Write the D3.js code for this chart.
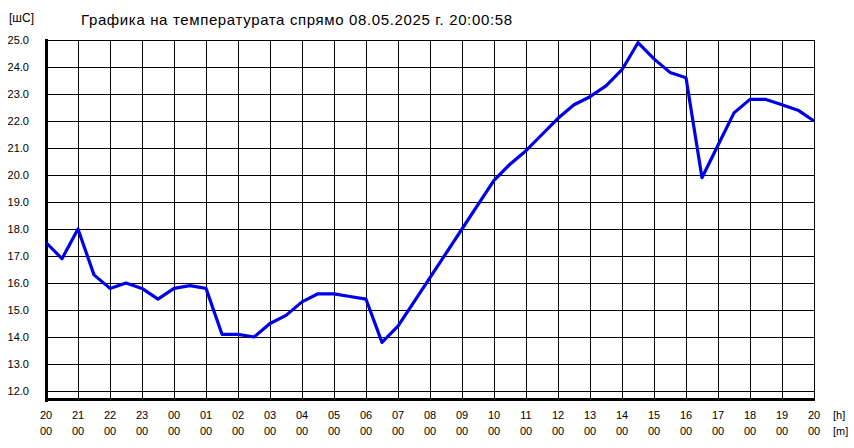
<!DOCTYPE html>
<html><head><meta charset="utf-8">
<script src="https://cdn.jsdelivr.net/npm/d3@7"></script>
<style>body{margin:0;background:#fff}svg{display:block}text{font-family:"Liberation Sans",Arial,sans-serif;fill:#000}</style>
</head><body><svg id="c" width="854" height="448"></svg>
<script>
const titleText = "Графика на температурата спрямо 08.05.2025 г. 20:00:58";
const unitLabel = "[шC]";
// time offset in hours from 20:00 start
const times = [0,0.5,1,1.5,2,2.5,3,3.5,4,4.5,5,5.5,6,6.5,7,7.5,8,8.5,9,9.5,10,10.5,11,11.5,12,12.5,13,13.5,14,14.5,15,15.5,16,16.5,17,17.5,18,18.5,19,19.5,20,20.5,21,21.5,22,22.5,23,23.5,24];
const temps = [17.5,16.9,18.0,16.3,15.8,16.0,15.8,15.4,15.8,15.9,15.8,14.1,14.1,14.0,14.5,14.8,15.3,15.6,15.6,15.5,15.4,13.8,14.4,15.3,16.2,17.1,18.0,18.9,19.8,20.4,20.9,21.5,22.1,22.6,22.9,23.3,23.9,24.9,24.3,23.8,23.6,19.9,21.1,22.3,22.8,22.8,22.6,22.4,22.0];
const hourLabels = ["20","21","22","23","00","01","02","03","04","05","06","07","08","09","10","11","12","13","14","15","16","17","18","19","20"];
const minuteLabels = hourLabels.map(()=> "00");
const yTicks = [12,13,14,15,16,17,18,19,20,21,22,23,24,25];

const svg = d3.select("#c");
const x = d3.scaleLinear().domain([0,24]).range([46,814]);
const y = d3.scaleLinear().domain([12,25]).range([391,40]);
const yBottom = y(11.67);

// grid
const g = svg.append("g").attr("shape-rendering","crispEdges");
g.selectAll("line.h").data(yTicks).join("line")
  .attr("x1",x(0)).attr("x2",x(24)).attr("y1",d=>Math.round(y(d))+0.5).attr("y2",d=>Math.round(y(d))+0.5)
  .attr("stroke","#000").attr("stroke-width",1);
g.selectAll("line.v").data(d3.range(0,25)).join("line")
  .attr("x1",d=>Math.round(x(d))+0.5).attr("x2",d=>Math.round(x(d))+0.5).attr("y1",y(25)).attr("y2",yBottom)
  .attr("stroke","#000").attr("stroke-width",1);
// thick axes
g.append("line").attr("x1",x(0)).attr("x2",x(0)).attr("y1",y(25)-1).attr("y2",yBottom+2).attr("stroke","#000").attr("stroke-width",3);
g.append("line").attr("x1",x(0)-1).attr("x2",x(24)+1).attr("y1",yBottom).attr("y2",yBottom).attr("stroke","#000").attr("stroke-width",3);

// y labels
svg.selectAll("text.yl").data(yTicks).join("text")
  .attr("x",29).attr("y",d=>y(d)+4).attr("text-anchor","end").attr("font-size",11).text(d=>d.toFixed(1));

// x labels
svg.selectAll("text.xh").data(hourLabels).join("text")
  .attr("x",(d,i)=>x(i)).attr("y",419).attr("text-anchor","middle").attr("font-size",11).text(d=>d);
svg.selectAll("text.xm").data(minuteLabels).join("text")
  .attr("x",(d,i)=>x(i)).attr("y",435).attr("text-anchor","middle").attr("font-size",11).text(d=>d);
svg.append("text").attr("x",833).attr("y",419).attr("font-size",11).text("[h]");
svg.append("text").attr("x",833).attr("y",435).attr("font-size",11).text("[m]");

// title and unit
svg.append("text").attr("x",9).attr("y",22).attr("font-size",12).text(unitLabel);
svg.append("text").attr("x",81).attr("y",25).attr("font-size",15)
  .attr("textLength",431).attr("lengthAdjust","spacing").text(titleText);

// line
const data = times.map((t,i)=>({t, v:temps[i]}));
svg.append("path").datum(data)
  .attr("d", d3.line().x(d=>x(d.t)).y(d=>y(d.v)))
  .attr("fill","none").attr("stroke","#0000e6").attr("stroke-width",3.2).attr("stroke-linejoin","round");
</script></body></html>
